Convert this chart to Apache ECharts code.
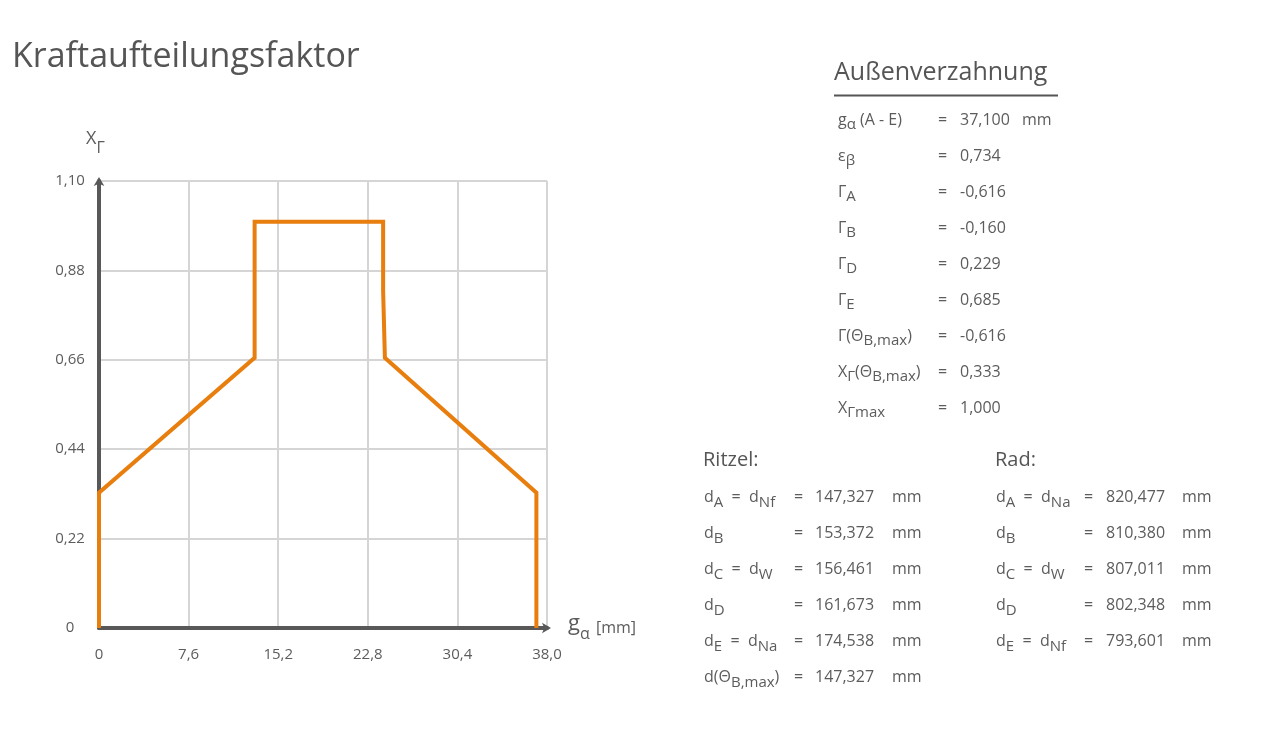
<!DOCTYPE html>
<html>
<head>
<meta charset="utf-8">
<script src="https://cdn.jsdelivr.net/npm/echarts@6/dist/echarts.min.js"></script>
<style>
html,body{margin:0;padding:0;background:#fff;}
#main{width:1270px;height:740px;}
</style>
</head>
<body>
<div id="main"></div>
<script>
// ---------- data ----------
const title = 'Kraftaufteilungsfaktor';
const curveX = [0, 0, 13.2, 13.2, 24.1, 24.1, 24.25, 24.25, 37.1, 37.1];
const curveY = [0, 0.333, 0.665, 1.0, 1.0, 0.83, 0.83, 0.665, 0.333, 0];
const xAxisMin = 0, xAxisMax = 38, xAxisStep = 7.6;
const yAxisMin = 0, yAxisMax = 1.10, yAxisStep = 0.22;

const outerTitle = 'Außenverzahnung';
const outerLabels = ['g_{α} (A - E)', 'ε_{β}', 'Γ_{A}', 'Γ_{B}', 'Γ_{D}', 'Γ_{E}', 'Γ(Θ_{B,max})', 'X_{Γ}(Θ_{B,max})', 'X_{Γmax}'];
const outerValues = ['37,100', '0,734', '-0,616', '-0,160', '0,229', '0,685', '-0,616', '0,333', '1,000'];
const outerUnits  = ['mm', '', '', '', '', '', '', '', ''];

const ritzelTitle = 'Ritzel:';
const ritzelLabels = ['d_{A}  =  d_{Nf}', 'd_{B}', 'd_{C}  =  d_{W}', 'd_{D}', 'd_{E}  =  d_{Na}', 'd(Θ_{B,max})'];
const ritzelValues = ['147,327', '153,372', '156,461', '161,673', '174,538', '147,327'];
const ritzelUnits  = ['mm', 'mm', 'mm', 'mm', 'mm', 'mm'];

const radTitle = 'Rad:';
const radLabels = ['d_{A}  =  d_{Na}', 'd_{B}', 'd_{C}  =  d_{W}', 'd_{D}', 'd_{E}  =  d_{Nf}'];
const radValues = ['820,477', '810,380', '807,011', '802,348', '793,601'];
const radUnits  = ['mm', 'mm', 'mm', 'mm', 'mm'];

// ---------- helpers ----------
const FONT = '"Open Sans", "Noto Sans", sans-serif';
const TXT = '#5c5c5c';
const ctx = document.createElement('canvas').getContext('2d');
function tw(s, size) { ctx.font = size + 'px ' + FONT; return ctx.measureText(s).width; }
function parse(s) {
  const out = []; const re = /_\{([^}]*)\}/g; let last = 0, m;
  while ((m = re.exec(s))) {
    if (m.index > last) out.push([s.slice(last, m.index), false]);
    out.push([m[1], true]); last = re.lastIndex;
  }
  if (last < s.length) out.push([s.slice(last), false]);
  return out;
}
const graphics = [];
function txt(text, x, y, size, color, extra) {
  graphics.push(Object.assign({
    type: 'text', x: x, y: y, silent: true,
    style: { text: text, fill: color || TXT, fontSize: size, fontFamily: FONT, verticalAlign: 'middle', align: 'left' }
  }, extra || {}));
}
function rich(s, x, y, base, sub, off) {
  let cx = x;
  parse(s).forEach(([t, isSub]) => {
    const sz = isSub ? sub : base;
    txt(t, cx, isSub ? y + off : y, sz);
    cx += tw(t, sz);
  });
  return cx;
}
function block(labels, values, units, lx, eqx, vx, ux, y0, dy) {
  labels.forEach((l, i) => {
    const y = y0 + i * dy;
    const end = rich(l, lx, y, 16, 15, 5);
    const ex = end > eqx - 4 ? end + 3 : eqx;
    txt('=', ex, y, 16);
    txt(values[i], vx, y, 16);
    if (units[i]) txt(units[i], ux, y, 16);
  });
}

// ---------- texts ----------
txt(title, 12, 57, 34, '#555555');
txt(outerTitle, 834, 73, 25, '#555555');
graphics.push({ type: 'line', silent: true, shape: { x1: 834, y1: 95.5, x2: 1058, y2: 95.5 }, style: { stroke: '#555555', lineWidth: 2 } });
block(outerLabels, outerValues, outerUnits, 838, 938, 960, 1022, 120, 36);
txt(ritzelTitle, 703, 460, 20, '#555555');
block(ritzelLabels, ritzelValues, ritzelUnits, 704, 794, 815, 892, 497.5, 36);
txt(radTitle, 995, 460, 20, '#555555');
block(radLabels, radValues, radUnits, 996, 1084, 1106, 1182, 497.5, 36);

// axis names
rich('X_{Γ}', 86, 139, 18, 16, 9);
rich('g_{α}', 568, 624, 22, 16, 10);
txt('[mm]', 596, 628, 16);

// ---------- chart ----------
const fmtY = v => v === 0 ? '0' : v.toFixed(2).replace('.', ',');
const fmtX = v => v === 0 ? '0' : v.toFixed(1).replace('.', ',');
const chart = echarts.init(document.getElementById('main'));
chart.setOption({
  animation: false,
  backgroundColor: '#ffffff',
  grid: { left: 99, right: 723, top: 181, bottom: 112, containLabel: false },
  xAxis: {
    type: 'value', min: xAxisMin, max: xAxisMax, interval: xAxisStep,
    axisLine: { show: true, lineStyle: { color: '#585858', width: 4 }, symbol: ['none', 'arrow'], symbolSize: [8, 9], symbolOffset: [0, 4] },
    axisTick: { show: false },
    splitLine: { show: true, lineStyle: { color: '#d5d5d5', width: 2 } },
    axisLabel: { formatter: fmtX, color: '#5c5c5c', fontSize: 15, fontFamily: FONT, margin: 19 }
  },
  yAxis: {
    type: 'value', min: yAxisMin, max: yAxisMax, interval: yAxisStep,
    axisLine: { show: true, lineStyle: { color: '#585858', width: 4 }, symbol: ['none', 'arrow'], symbolSize: [8, 9], symbolOffset: [0, 4] },
    axisTick: { show: false },
    splitLine: { show: true, lineStyle: { color: '#d5d5d5', width: 2 } },
    axisLabel: { formatter: fmtY, color: '#5c5c5c', fontSize: 15, fontFamily: FONT, align: 'center', margin: 29 }
  },
  series: [{
    type: 'line', z: 5,
    data: curveX.map((x, i) => [x, curveY[i]]),
    showSymbol: false, symbol: 'none',
    lineStyle: { color: '#e87e0e', width: 4, join: 'miter' },
    clip: false
  }],
  graphic: graphics
});
</script>
</body>
</html>
